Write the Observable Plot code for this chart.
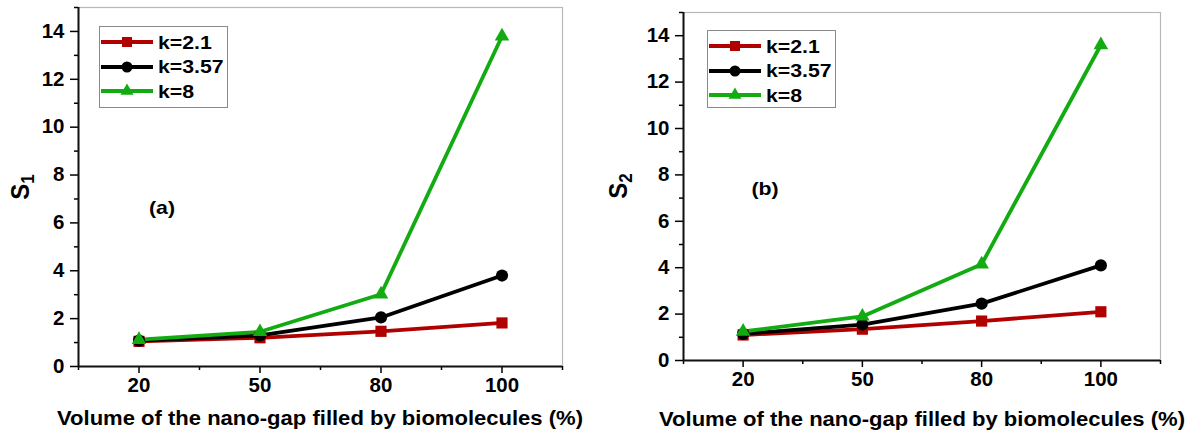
<!DOCTYPE html>
<html><head><meta charset="utf-8">
<script src="https://cdn.jsdelivr.net/npm/d3@7"></script>
<script src="https://cdn.jsdelivr.net/npm/@observablehq/plot@0.6"></script>
<style>
body{margin:0;background:#fff;}
#wrap{position:relative;width:1186px;height:437px;display:flex;overflow:hidden;}
.panel{position:relative;width:593px;height:437px;}
.legend{position:absolute;box-sizing:border-box;border:1px solid #8a8a8a;background:#fff;font:bold 19px "Liberation Sans";padding:3px 0 0 0;}
.row{display:flex;align-items:center;height:24.5px;white-space:nowrap;line-height:1;}
.row svg{display:block;margin-right:4px;}
.row span{display:inline-block;transform:scaleX(1.12);transform-origin:left center;}
.ann{position:absolute;font:bold 19px "Liberation Sans";line-height:1;color:#000;white-space:nowrap;transform:translate(-50%,-50%) scaleX(1.12);}
.ylab{position:absolute;font:bold 24px "Liberation Sans";line-height:1;color:#000;white-space:nowrap;transform:translate(-50%,-50%) rotate(-90deg) scaleY(1.1);}
.ylab sub{font-size:17px;vertical-align:-4px;}
.xlab{position:absolute;font:bold 19.5px "Liberation Sans";line-height:1;color:#000;white-space:nowrap;transform:translate(-50%,-50%) scaleX(1.13);}
</style></head><body>
<div id="wrap"><div class="panel" id="pa"></div><div class="panel" id="pb"></div></div>
<script>
// ---- data ----
const xCats = [20, 50, 80, 100];
const seriesNames = ["k=2.1", "k=3.57", "k=8"];
const seriesColors = ["#b00000", "#000000", "#12ab12"];
const seriesSymbols = ["square", "circle", "triangle"];
const s1_k21  = [1.05, 1.20, 1.47, 1.82];
const s1_k357 = [1.08, 1.30, 2.05, 3.80];
const s1_k8   = [1.12, 1.45, 3.02, 13.8];
const s2_k21  = [1.10, 1.35, 1.70, 2.10];
const s2_k357 = [1.15, 1.55, 2.45, 4.10];
const s2_k8   = [1.25, 1.90, 4.15, 13.6];
const yMajor = [0, 2, 4, 6, 8, 10, 12, 14];
const yMinor = [1, 3, 5, 7, 9, 11, 13, 15];
const xTitle = "Volume of the nano-gap filled by biomolecules (%)";

// ---- styling ----
const markerR = {"square": 6.3, "circle": 6.1, "triangle": 5.4};
const d3Sym = {"square": d3.symbolSquare, "circle": d3.symbolCircle, "triangle": d3.symbolTriangle};
const STRETCH = 1.05;

function makeRows(arrs) {
  return arrs.flatMap((arr, si) => arr.map((v, i) => ({i, x: xCats[i], y: v, s: seriesNames[si]})));
}

function panel(el, rows, o) {
  const idx = xCats.map((_, i) => i);
  const mids = [-0.5, ...idx.map(i => i + 0.5)];
  const plot = Plot.plot({
    width: 593, height: 437,
    marginLeft: o.ml, marginRight: o.mr, marginTop: o.mt, marginBottom: o.mb,
    x: {type: "linear", domain: [-0.5, xCats.length - 0.5]},
    y: {domain: [0, 15]},
    color: {domain: seriesNames, range: seriesColors},
    symbol: {domain: seriesNames, range: seriesSymbols},
    style: {fontFamily: "Liberation Sans", fontWeight: "bold", fontSize: "19.5px", color: "#000", background: "#fff", overflow: "visible"},
    marks: [
      Plot.frame({stroke: "#b8b8b8", strokeWidth: 1.2}),
      Plot.axisY(yMinor, {tickSize: 4, text: null, strokeWidth: 1.5, label: null}),
      Plot.axisY(yMajor, {tickSize: 8, tickPadding: 6, strokeWidth: 1.5, label: null, fontSize: 19.5, fontWeight: "bold"}),
      Plot.axisX(mids, {tickSize: 4, text: null, strokeWidth: 1.5, label: null}),
      Plot.axisX(idx, {tickSize: 7, tickPadding: 5, strokeWidth: 1.5, tickFormat: i => xCats[i], label: null, fontSize: 19.5, fontWeight: "bold"}),
      Plot.ruleX([-0.5], {stroke: "#111", strokeWidth: 2}),
      Plot.ruleY([0], {stroke: "#111", strokeWidth: 2}),
      Plot.line(rows, {x: "i", y: "y", z: "s", stroke: "s", strokeWidth: 3.8, strokeLinejoin: "miter"}),
      ...seriesNames.map((name, si) => Plot.dot(rows.filter(d => d.s === name), {
        x: "i", y: "y", fill: "s", symbol: "s", r: markerR[seriesSymbols[si]], stroke: null
      }))
    ]
  });
  // slightly stretch tick labels horizontally (reference glyphs are wide)
  d3.select(plot).selectAll('g[aria-label*="tick label"] text').each(function () {
    const t = this.getAttribute("transform") || "";
    this.setAttribute("transform", t + ` scale(${STRETCH},1)`);
  });
  el.append(plot);

  // legend
  const lg = document.createElement("div");
  lg.className = "legend";
  lg.style.left = o.lgx + "px"; lg.style.top = o.lgy + "px";
  lg.style.width = o.lgw + "px"; lg.style.height = o.lgh + "px";
  seriesNames.forEach((name, si) => {
    const row = document.createElement("div"); row.className = "row";
    const sv = d3.create("svg").attr("width", 54).attr("height", 24);
    sv.append("line").attr("x1", 1).attr("x2", 53).attr("y1", 12).attr("y2", 12)
      .attr("stroke", seriesColors[si]).attr("stroke-width", 3.8);
    const r = markerR[seriesSymbols[si]] * 0.9;
    sv.append("path").attr("transform", "translate(27,12)")
      .attr("d", d3.symbol(d3Sym[seriesSymbols[si]], Math.PI * r * r)())
      .attr("fill", seriesColors[si]);
    row.append(sv.node());
    const t = document.createElement("span"); t.textContent = name; row.append(t);
    lg.append(row);
  });
  el.append(lg);

  const ann = document.createElement("div"); ann.className = "ann";
  ann.textContent = o.tag; ann.style.left = o.tagx + "px"; ann.style.top = o.tagy + "px";
  el.append(ann);

  const yl = document.createElement("div"); yl.className = "ylab";
  yl.innerHTML = "S<sub>" + o.sub + "</sub>";
  yl.style.left = o.ylx + "px"; yl.style.top = o.yly + "px";
  el.append(yl);

  const xl = document.createElement("div"); xl.className = "xlab";
  xl.textContent = xTitle; xl.style.left = o.xlx + "px"; xl.style.top = o.xly + "px";
  el.append(xl);
}

panel(document.getElementById("pa"), makeRows([s1_k21, s1_k357, s1_k8]),
  {ml: 78, mr: 31, mt: 7, mb: 71, lgx: 99, lgy: 26, lgw: 129, lgh: 82,
   tag: "(a)", tagx: 162, tagy: 207, sub: "1", ylx: 22, yly: 187, xlx: 320, xly: 419});
panel(document.getElementById("pb"), makeRows([s2_k21, s2_k357, s2_k8]),
  {ml: 90, mr: 26, mt: 12, mb: 77, lgx: 114, lgy: 30, lgw: 129, lgh: 78,
   tag: "(b)", tagx: 172, tagy: 188, sub: "2", ylx: 27, yly: 186, xlx: 329, xly: 420});
</script>
</body></html>
